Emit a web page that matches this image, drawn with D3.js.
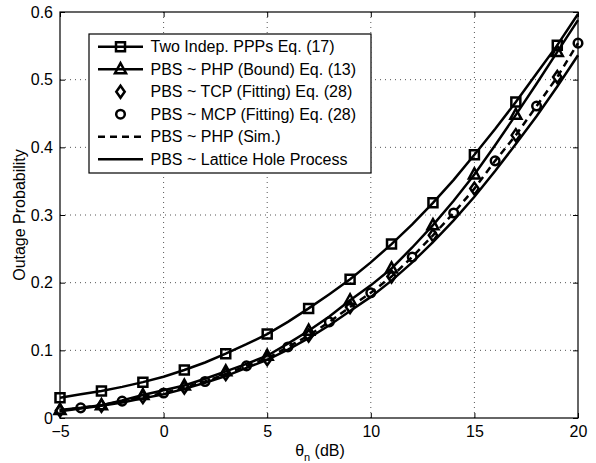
<!DOCTYPE html>
<html><head><meta charset="utf-8">
<script src="https://cdn.jsdelivr.net/npm/d3@7/dist/d3.min.js"></script>
<style>
html,body{margin:0;padding:0;background:#fff;}
svg{display:block;font-family:"Liberation Sans",Arial,Helvetica,sans-serif;}
</style></head>
<body><svg id="chart" width="596" height="463"></svg>
<script>
// ---- data ----
const xGrid = [-5,-4,-3,-2,-1,0,1,2,3,4,5,6,7,8,9,10,11,12,13,14,15,16,17,18,19,20];
const twoPPP   = [0.030,0.035,0.040,0.046,0.053,0.061,0.071,0.082,0.095,0.109,0.124,0.142,0.162,0.183,0.205,0.230,0.257,0.286,0.318,0.352,0.389,0.427,0.467,0.509,0.551,0.597];
const phpBound = [0.012,0.015,0.019,0.026,0.034,0.041,0.048,0.058,0.069,0.080,0.092,0.110,0.129,0.150,0.174,0.196,0.221,0.252,0.285,0.321,0.360,0.403,0.448,0.494,0.541,0.588];
const phpSim   = [0.011,0.015,0.019,0.025,0.031,0.037,0.045,0.054,0.065,0.077,0.088,0.105,0.122,0.142,0.164,0.185,0.209,0.238,0.270,0.303,0.339,0.380,0.418,0.461,0.504,0.554];
const lattice  = [0.010,0.014,0.018,0.023,0.029,0.035,0.043,0.052,0.062,0.074,0.086,0.101,0.118,0.137,0.158,0.179,0.203,0.230,0.260,0.292,0.327,0.365,0.405,0.446,0.490,0.536];
const oddX = [-5,-3,-1,1,3,5,7,9,11,13,15,17,19];
const evenX = [-4,-2,0,2,4,6,8,10,12,14,16,18,20];
const twoPPPMarks   = [0.030,0.040,0.053,0.071,0.095,0.124,0.162,0.205,0.257,0.318,0.389,0.467,0.551];
const phpBoundMarks = [0.012,0.019,0.034,0.048,0.069,0.092,0.129,0.174,0.221,0.285,0.360,0.448,0.541];
const tcpFit        = [0.011,0.018,0.031,0.045,0.065,0.087,0.122,0.164,0.209,0.270,0.339,0.418,0.504];
const mcpFit        = [0.015,0.025,0.037,0.054,0.077,0.105,0.142,0.185,0.238,0.303,0.380,0.461,0.554];
const xTicks = [-5,0,5,10,15,20];
const xTickLabels = ["\u22125","0","5","10","15","20"];
const yTicks = [0,0.1,0.2,0.3,0.4,0.5,0.6];
const yTickLabels = ["0","0.1","0.2","0.3","0.4","0.5","0.6"];
const legendLabels = ["Two Indep. PPPs Eq. (17)","PBS ~ PHP (Bound) Eq. (13)","PBS ~ TCP (Fitting) Eq. (28)","PBS ~ MCP (Fitting) Eq. (28)","PBS ~ PHP (Sim.)","PBS ~ Lattice Hole Process"];

// ---- layout ----
const L=60,R=578,T=12,B=418;
const svg=d3.select("#chart");
const x=d3.scaleLinear().domain([-5,20]).range([L,R]);
const y=d3.scaleLinear().domain([0,0.6]).range([B,T]);
const FS=16, LW=2.5;

// grid
const grid=svg.append("g").attr("stroke","#555").attr("stroke-width",1).attr("stroke-dasharray","1,4");
xTicks.slice(1,-1).forEach(v=>grid.append("line").attr("x1",x(v)).attr("x2",x(v)).attr("y1",T).attr("y2",B));
yTicks.slice(1,-1).forEach(v=>grid.append("line").attr("x1",L).attr("x2",R).attr("y1",y(v)).attr("y2",y(v)));

// axes
const ax=d3.axisBottom(x).tickValues(xTicks).tickFormat((d,i)=>xTickLabels[i]).tickSize(-5).tickPadding(8);
const gx=svg.append("g").attr("transform",`translate(0,${B})`).call(ax);
const gxt=svg.append("g").attr("transform",`translate(0,${T})`).call(d3.axisTop(x).tickValues(xTicks).tickFormat("").tickSize(-5));
const ay=d3.axisLeft(y).tickValues(yTicks).tickFormat((d,i)=>yTickLabels[i]).tickSize(-5).tickPadding(7);
const gy=svg.append("g").attr("transform",`translate(${L},0)`).call(ay);
const gyr=svg.append("g").attr("transform",`translate(${R},0)`).call(d3.axisRight(y).tickValues(yTicks).tickFormat("").tickSize(-5));
[gx,gxt,gy,gyr].forEach(g=>{g.select(".domain").remove();g.selectAll("line").attr("stroke","#000");g.selectAll("text").attr("font-size",FS).attr("font-family","Liberation Sans, Arial, sans-serif").attr("fill","#000");});
gx.selectAll("text").attr("dy","0.71em");

// series lines
const line=(xs,ys)=>d3.line().x((d,i)=>x(xs[i])).y((d,i)=>y(ys[i]))(ys);
const plot=svg.append("g");
plot.append("path").attr("d",line(xGrid,lattice)).attr("fill","none").attr("stroke","#000").attr("stroke-width",LW);
plot.append("path").attr("d",line(xGrid,phpSim)).attr("fill","none").attr("stroke","#000").attr("stroke-width",LW).attr("stroke-dasharray","7,5");
plot.append("path").attr("d",line(xGrid,phpBound)).attr("fill","none").attr("stroke","#000").attr("stroke-width",LW);
plot.append("path").attr("d",line(xGrid,twoPPP)).attr("fill","none").attr("stroke","#000").attr("stroke-width",LW);

// markers
const shapes={
  square:"M-4.5,-4.5H4.5V4.5H-4.5Z",
  triangle:"M0,-6L5.5,4H-5.5Z",
  diamond:"M0,-6L4.2,0L0,6L-4.2,0Z",
  circle:"M4.3,0A4.3,4.3 0 1,1 -4.3,0A4.3,4.3 0 1,1 4.3,0Z"
};
function marks(xs,ys,shape){
  plot.append("g").selectAll("path").data(ys).join("path")
    .attr("d",shapes[shape]).attr("transform",(d,i)=>`translate(${x(xs[i])},${y(d)})`)
    .attr("fill","none").attr("stroke","#000").attr("stroke-width",LW);
}
marks(oddX,twoPPPMarks,"square");
marks(oddX,phpBoundMarks,"triangle");
marks(oddX,tcpFit,"diamond");
marks(evenX,mcpFit,"circle");

// box
svg.append("rect").attr("x",L).attr("y",T).attr("width",R-L).attr("height",B-T).attr("fill","none").attr("stroke","#000").attr("stroke-width",1.2);

// axis labels
const xl=svg.append("text").attr("x",320).attr("y",456).attr("text-anchor","middle").attr("font-size",FS).attr("fill","#000");
xl.append("tspan").text("\u03b8");
xl.append("tspan").attr("font-size",11).attr("dy",5).text("n");
xl.append("tspan").attr("dy",-5).text(" (dB)");
svg.append("text").attr("transform","translate(25,215) rotate(-90)").attr("text-anchor","middle").attr("font-size",FS).attr("fill","#000").text("Outage Probability");

// legend
const lg=svg.append("g");
lg.append("rect").attr("x",89).attr("y",34).attr("width",282).attr("height",139).attr("fill","#fff").attr("stroke","#000").attr("stroke-width",1.2);
const rowY=i=>46.7+i*22.5;
const lx1=98,lx2=143,lxm=120.5;
const legendSpec=[
  {line:true,dash:null,shape:"square"},
  {line:true,dash:null,shape:"triangle"},
  {line:false,dash:null,shape:"diamond"},
  {line:false,dash:null,shape:"circle"},
  {line:true,dash:"7,5",shape:null},
  {line:true,dash:null,shape:null}
];
legendSpec.forEach((s,i)=>{
  const yy=rowY(i);
  if(s.line){
    const l=lg.append("line").attr("x1",lx1).attr("x2",lx2).attr("y1",yy).attr("y2",yy).attr("stroke","#000").attr("stroke-width",LW);
    if(s.dash) l.attr("stroke-dasharray",s.dash);
  }
  if(s.shape) lg.append("path").attr("d",shapes[s.shape]).attr("transform",`translate(${lxm},${yy})`).attr("fill","none").attr("stroke","#000").attr("stroke-width",LW);
  lg.append("text").attr("x",150.5).attr("y",yy).attr("dy","0.36em").attr("font-size",FS).attr("fill","#000").text(legendLabels[i]);
});
</script>
</body></html>
